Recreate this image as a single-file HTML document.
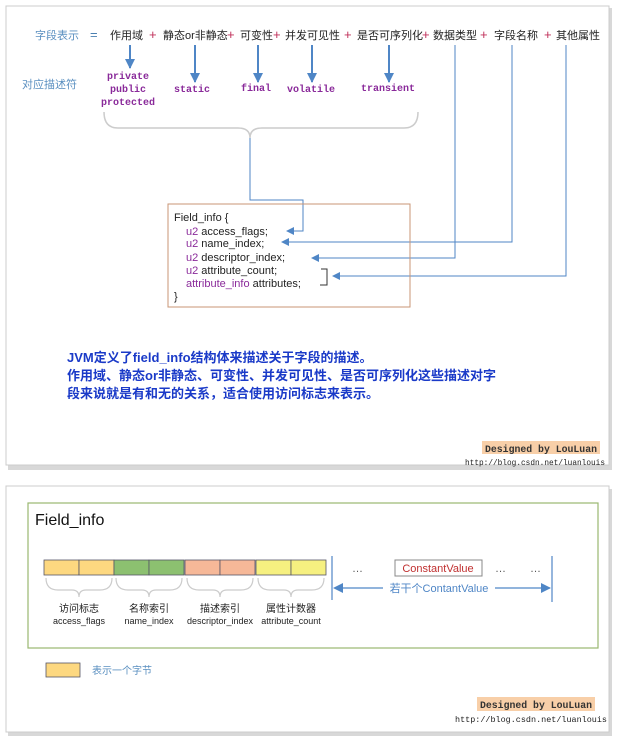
<!DOCTYPE html>
<html><head><meta charset="utf-8"><style>
body{margin:0;background:#fff;width:620px;height:739px;overflow:hidden;font-family:"Liberation Sans","Noto Sans CJK SC",sans-serif}
</style></head><body>
<svg width="620" height="739" xmlns="http://www.w3.org/2000/svg" font-family="Liberation Sans, Noto Sans CJK SC, sans-serif">
<defs>
<marker id="ah" markerWidth="8" markerHeight="8" refX="7" refY="4" orient="auto" markerUnits="userSpaceOnUse"><path d="M0,0 L8,4 L0,8 z" fill="#4f86c6"/></marker>
<marker id="bh" markerWidth="10" markerHeight="10" refX="9" refY="5" orient="auto" markerUnits="userSpaceOnUse"><path d="M0,0 L10,5 L0,10 z" fill="#4f86c6"/></marker>
</defs>
<rect x="8" y="8" width="604" height="462" fill="#d8d8d8"/>
<rect x="6" y="6" width="603" height="459" fill="#fff" stroke="#ccc"/>
<rect x="8" y="489" width="604" height="247" fill="#d8d8d8"/>
<rect x="6" y="486" width="603" height="246" fill="#fff" stroke="#ccc"/>

<g font-size="11">
<text x="35" y="39" fill="#5a8fc0">字段表示</text>
<text x="90" y="39" fill="#4a7fb0" font-size="13">=</text>
<text x="110" y="39" fill="#222">作用域</text>
<text x="149" y="39" fill="#c0305a" font-size="13">+</text>
<text x="163" y="39" fill="#222">静态or非静态</text>
<text x="227" y="39" fill="#c0305a" font-size="13">+</text>
<text x="240" y="39" fill="#222">可变性</text>
<text x="273" y="39" fill="#c0305a" font-size="13">+</text>
<text x="285" y="39" fill="#222">并发可见性</text>
<text x="344" y="39" fill="#c0305a" font-size="13">+</text>
<text x="357" y="39" fill="#222">是否可序列化</text>
<text x="422" y="39" fill="#c0305a" font-size="13">+</text>
<text x="433" y="39" fill="#222">数据类型</text>
<text x="480" y="39" fill="#c0305a" font-size="13">+</text>
<text x="494" y="39" fill="#222">字段名称</text>
<text x="544" y="39" fill="#c0305a" font-size="13">+</text>
<text x="556" y="39" fill="#222">其他属性</text>
<text x="22" y="88" fill="#5a8fc0">对应描述符</text>
</g>
<g stroke="#4f86c6" stroke-width="2" marker-end="url(#bh)">
<line x1="130" y1="45" x2="130" y2="68"/>
<line x1="195" y1="45" x2="195" y2="82"/>
<line x1="258" y1="45" x2="258" y2="82"/>
<line x1="312" y1="45" x2="312" y2="82"/>
<line x1="389" y1="45" x2="389" y2="82"/>
</g>
<g font-family="Liberation Mono, monospace" font-size="10" font-weight="bold" fill="#8a2a9a" text-anchor="middle">
<text x="128" y="79">private</text><text x="128" y="92">public</text><text x="128" y="105">protected</text>
<text x="192" y="92">static</text><text x="256" y="91">final</text><text x="311" y="92">volatile</text><text x="388" y="91">transient</text>
</g>
<path d="M104,112 Q104,128 118,128 L238,128 Q250,128 250,138 Q250,128 262,128 L404,128 Q418,128 418,112" fill="none" stroke="#ccc" stroke-width="1.5"/>
<g stroke="#4f86c6" stroke-width="1" fill="none">
<polyline points="250,138 250,200 303,200 303,231 287,231" marker-end="url(#ah)"/>
<polyline points="512,45 512,242 282,242" marker-end="url(#ah)"/>
<polyline points="455,45 455,258 312,258" marker-end="url(#ah)"/>
<polyline points="566,45 566,276 333,276" marker-end="url(#ah)"/>
<polyline points="321,269 327,269 327,285 320,285" stroke="#333"/>
</g>
<rect x="168" y="204" width="242" height="103" fill="none" stroke="#c89575"/>
<g font-size="11" fill="#222">
<text x="174" y="221">Field_info {</text>
<text x="186" y="235"><tspan fill="#8a2a9a">u2</tspan>  access_flags;</text>
<text x="186" y="247"><tspan fill="#8a2a9a">u2</tspan>  name_index;</text>
<text x="186" y="261"><tspan fill="#8a2a9a">u2</tspan>   descriptor_index;</text>
<text x="186" y="274"><tspan fill="#8a2a9a">u2</tspan>   attribute_count;</text>
<text x="186" y="287"><tspan fill="#8a2a9a">attribute_info</tspan> attributes;</text>
<text x="174" y="300">}</text>
</g>
<g font-size="13" font-weight="bold" fill="#1a3ac8">
<text x="67" y="362">JVM定义了field_info结构体来描述关于字段的描述。</text>
<text x="67" y="380">作用域、静态or非静态、可变性、并发可见性、是否可序列化这些描述对字</text>
<text x="67" y="398">段来说就是有和无的关系，适合使用访问标志来表示。</text>
</g>
<rect x="482" y="441" width="118" height="13" fill="#f8cfa8"/>
<text x="485" y="452" font-family="Liberation Mono, monospace" font-size="10" font-weight="bold" fill="#333" textLength="112" lengthAdjust="spacingAndGlyphs">Designed by LouLuan</text>
<text x="465" y="465" font-family="Liberation Mono, monospace" font-size="8.5" fill="#222" textLength="140" lengthAdjust="spacingAndGlyphs">http://blog.csdn.net/luanlouis</text>

<rect x="28" y="503" width="570" height="145" fill="none" stroke="#9ab870" stroke-width="1.2"/>
<text x="35" y="525" font-size="16" fill="#111">Field_info</text>
<g stroke="#556" stroke-width="0.8">
<rect x="44" y="560" width="35" height="15" fill="#fdd880"/><rect x="79" y="560" width="35" height="15" fill="#fdd880"/>
<rect x="114" y="560" width="35" height="15" fill="#8cc070"/><rect x="149" y="560" width="35" height="15" fill="#8cc070"/>
<rect x="185" y="560" width="35" height="15" fill="#f6b898"/><rect x="220" y="560" width="35" height="15" fill="#f6b898"/>
<rect x="256" y="560" width="35" height="15" fill="#f6f080"/><rect x="291" y="560" width="35" height="15" fill="#f6f080"/>
</g>
<g fill="none" stroke="#ccc" stroke-width="1.2">
<path d="M46,578 Q46,590 58,590 L72,590 Q79,590 79,597 Q79,590 86,590 L100,590 Q112,590 112,578"/>
<path d="M116,578 Q116,590 128,590 L142,590 Q149,590 149,597 Q149,590 156,590 L170,590 Q182,590 182,578"/>
<path d="M187,578 Q187,590 199,590 L213,590 Q220,590 220,597 Q220,590 227,590 L241,590 Q253,590 253,578"/>
<path d="M258,578 Q258,590 270,590 L284,590 Q291,590 291,597 Q291,590 298,590 L312,590 Q324,590 324,578"/>
</g>
<g font-size="10" fill="#222" text-anchor="middle">
<text x="79" y="612">访问标志</text><text x="79" y="624" font-size="9">access_flags</text>
<text x="149" y="612">名称索引</text><text x="149" y="624" font-size="9">name_index</text>
<text x="220" y="612">描述索引</text><text x="220" y="624" font-size="9">descriptor_index</text>
<text x="291" y="612">属性计数器</text><text x="291" y="624" font-size="9">attribute_count</text>
</g>
<g fill="#555" font-size="11"><text x="352" y="572">…</text><text x="495" y="572">…</text><text x="530" y="572">…</text></g>
<rect x="395" y="560" width="87" height="16" fill="#fff" stroke="#888"/>
<text x="438" y="572" font-size="11" fill="#c03030" text-anchor="middle">ConstantValue</text>
<g stroke="#4f86c6" stroke-width="1.2">
<line x1="332" y1="556" x2="332" y2="600"/><line x1="552" y1="556" x2="552" y2="602"/>
<line x1="340" y1="588" x2="550" y2="588" marker-end="url(#bh)"/>
</g>
<path d="M333,588 L343,583 L343,593 z" fill="#4f86c6"/>
<rect x="383" y="581" width="112" height="14" fill="#fff"/>
<text x="439" y="592" font-size="11" fill="#4f86c6" text-anchor="middle">若干个ContantValue</text>
<rect x="46" y="663" width="34" height="14" fill="#fdd880" stroke="#556" stroke-width="0.8"/>
<text x="92" y="674" font-size="10" fill="#5a8fc0">表示一个字节</text>
<rect x="477" y="697" width="118" height="14" fill="#f8cfa8"/>
<text x="480" y="708" font-family="Liberation Mono, monospace" font-size="10" font-weight="bold" fill="#333" textLength="112" lengthAdjust="spacingAndGlyphs">Designed by LouLuan</text>
<text x="455" y="722" font-family="Liberation Mono, monospace" font-size="8.5" fill="#222" textLength="152" lengthAdjust="spacingAndGlyphs">http://blog.csdn.net/luanlouis</text>
</svg>
</body></html>
